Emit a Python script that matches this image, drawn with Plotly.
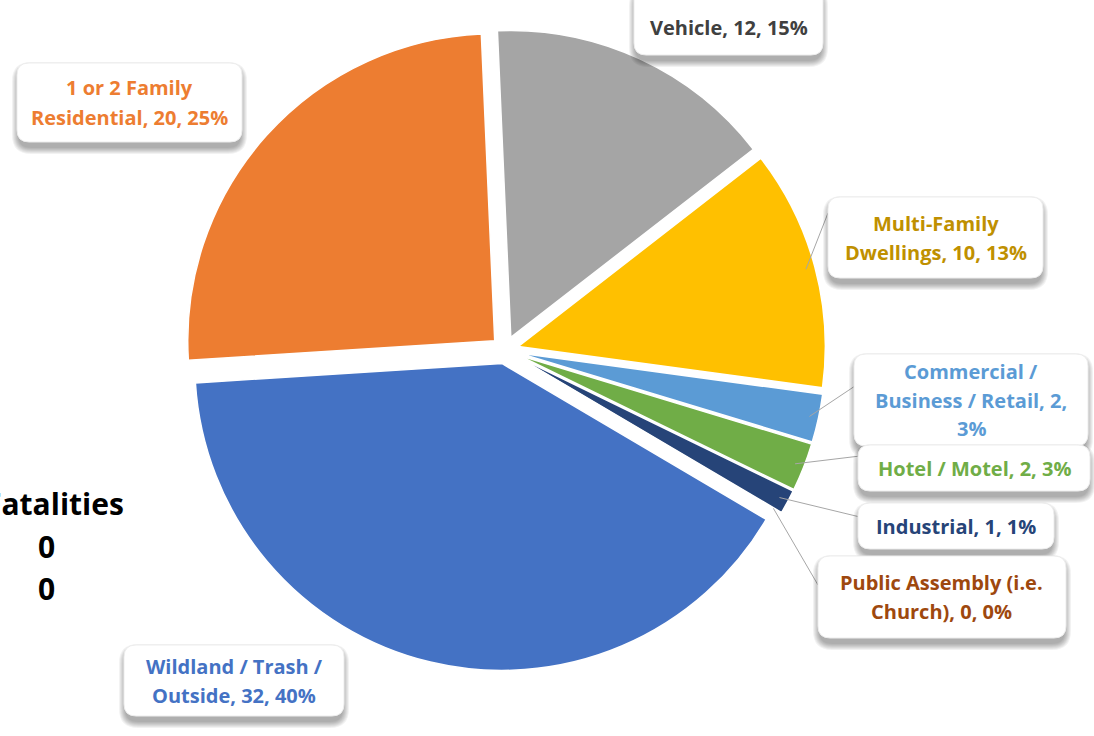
import math
import plotly.graph_objects as go

# ---------------- data ----------------
categories = ["Vehicle", "Multi-Family Dwellings", "Commercial / Business / Retail",
              "Hotel / Motel", "Industrial", "Public Assembly (i.e. Church)",
              "Wildland / Trash / Outside", "1 or 2 Family Residential"]
values = [12, 10, 2, 2, 1, 0, 32, 20]
pct_labels = [15, 13, 3, 3, 1, 0, 40, 25]          # as printed on the chart
side_header = "Fatalities"
side_values = ["0", "0"]

# ---------------- style ----------------
slice_colors = ["#A5A5A5", "#FFC000", "#5B9BD5", "#70AD47", "#264478", "#9E480E", "#4472C4", "#ED7D31"]
text_colors = ["#404040", "#BF9000", "#5B9BD5", "#70AD47", "#264478", "#9E480E", "#4472C4", "#ED7D31"]
# words per line for each label
line_words = [[3], [1, 3], [2, 4, 1], [5], [3], [3, 3], [4, 3], [4, 3]]
# label boxes in pixels (x0, y0, x1, y1)
boxes = [(634, -12, 823, 55), (828, 197, 1043, 278), (854, 354, 1088, 446),
         (858, 445, 1090, 491), (858, 503, 1054, 549), (818, 556, 1066, 638),
         (124, 645, 344, 716), (17, 63, 242, 142)]
# leader end points (pixels); None = no leader
leader_end = [None, (828, 213), (855, 386), (860, 456), (860, 517), (818, 585), None, None]

W, H = 1094, 736
CX, CY, R = 505, 350, 307
PULL = 0.045
ROT = -2.5
LINE_SP = 29
FONT = "Open Sans"


def P(x, y):
    return x / W, 1 - y / H


half = R * (1 + PULL)
fig = go.Figure(go.Pie(
    labels=categories, values=values, sort=False, direction="clockwise",
    rotation=ROT, pull=[PULL] * len(values), textinfo="none",
    marker=dict(colors=slice_colors, line=dict(color="white", width=1.5)),
    domain=dict(x=[(CX - half) / W, (CX + half) / W], y=[1 - (CY + half) / H, 1 - (CY - half) / H]),
    showlegend=False, hoverinfo="label+value+percent",
))

shapes = []
annotations = []

# leader lines, starting from the slice middles computed from the data
total = sum(values)
cum = 0
for i, v in enumerate(values):
    a0 = ROT + cum / total * 360
    cum += v
    a1 = ROT + cum / total * 360
    mid = math.radians((a0 + a1) / 2)
    if leader_end[i] is not None:
        pcx = CX + PULL * R * math.sin(mid)
        pcy = CY - PULL * R * math.cos(mid)
        sx = pcx + 0.97 * R * math.sin(mid)
        sy = pcy - 0.97 * R * math.cos(mid)
        x0, y0 = P(sx, sy)
        x1, y1 = P(*leader_end[i])
        shapes.append(dict(type="line", xref="paper", yref="paper", x0=x0, y0=y0, x1=x1, y1=y1,
                           line=dict(color="#A6A6A6", width=1), layer="above"))


def rrect(x0, y0, x1, y1, rad):
    def p(x, y):
        a, b = P(x, y)
        return f"{a:.5f},{b:.5f}"
    return (f"M {p(x0 + rad, y0)} L {p(x1 - rad, y0)} Q {p(x1, y0)} {p(x1, y0 + rad)} "
            f"L {p(x1, y1 - rad)} Q {p(x1, y1)} {p(x1 - rad, y1)} L {p(x0 + rad, y1)} "
            f"Q {p(x0, y1)} {p(x0, y1 - rad)} L {p(x0, y0 + rad)} Q {p(x0, y0)} {p(x0 + rad, y0)} Z")


for i, cat in enumerate(categories):
    x0, y0, x1, y1 = boxes[i]
    # soft shadow
    for k in range(7):
        e = 7 - k
        shapes.append(dict(type="path", xref="paper", yref="paper",
                           path=rrect(x0 - e + 2, y0 - e + 6, x1 + e - 2, y1 + e + 5, 12 + e),
                           fillcolor="rgba(0,0,0,0.05)", line=dict(width=0), layer="above"))
    shapes.append(dict(type="path", xref="paper", yref="paper", path=rrect(x0, y0, x1, y1, 12),
                       fillcolor="white", line=dict(color="#EDEDED", width=1), layer="above"))
    full = f"{cat}, {values[i]}, {pct_labels[i]}%"
    words = full.split(" ")
    lines, k = [], 0
    for n in line_words[i]:
        lines.append(" ".join(words[k:k + n]))
        k += n
    cy = (y0 + y1) / 2 if y0 >= 0 else 27
    n = len(lines)
    for j, ln in enumerate(lines):
        ty = cy + (j - (n - 1) / 2) * LINE_SP
        ax, ay = P((x0 + x1) / 2, ty)
        annotations.append(dict(x=ax, y=ay, xref="paper", yref="paper", text=ln, showarrow=False,
                                xanchor="center", yanchor="middle",
                                font=dict(family=FONT, size=20, color=text_colors[i], weight=700)))

# partial side table at the left edge (cut off by the frame, as in the source)
hx, hy = P(126, 503)
annotations.append(dict(x=hx, y=hy, xref="paper", yref="paper", text=side_header, showarrow=False,
                        xanchor="right", yanchor="middle",
                        font=dict(family=FONT, size=30, color="black", weight=700)))
for j, sv in enumerate(side_values):
    vx, vy = P(46, 546 + j * 42)
    annotations.append(dict(x=vx, y=vy, xref="paper", yref="paper", text=sv, showarrow=False,
                            xanchor="center", yanchor="middle",
                            font=dict(family=FONT, size=30, color="black", weight=700)))

fig.update_layout(width=W, height=H, margin=dict(l=0, r=0, t=0, b=0),
                  paper_bgcolor="white", plot_bgcolor="white",
                  shapes=shapes, annotations=annotations)
fig.write_html("out.html", config={"displayModeBar": False},
               post_script="document.body.style.margin='0';")
